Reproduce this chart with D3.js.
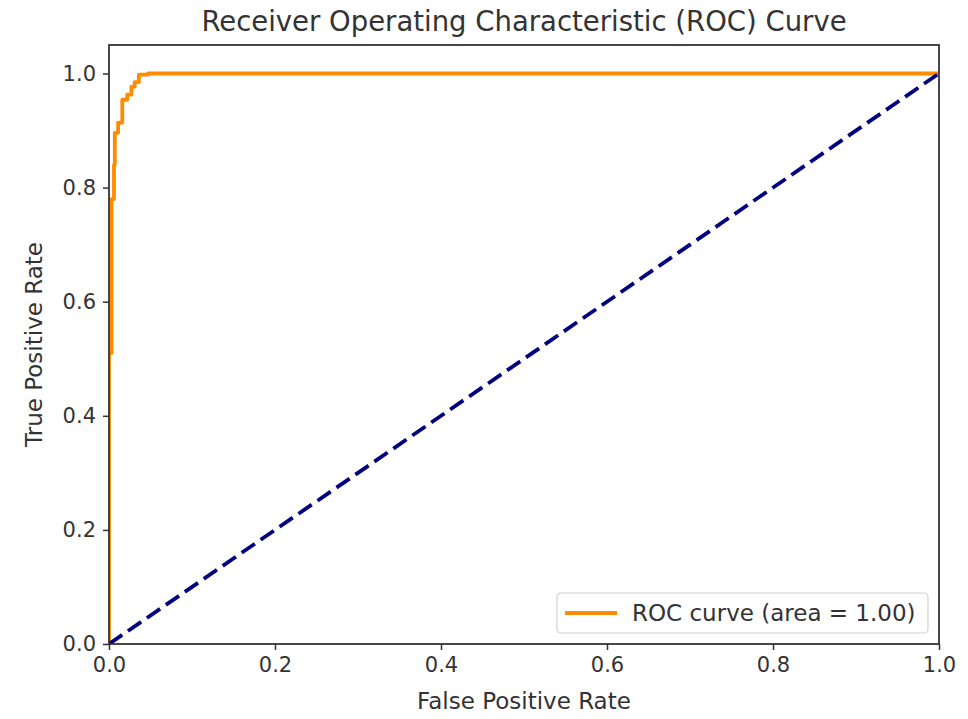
<!DOCTYPE html>
<html>
<head>
<meta charset="utf-8">
<script src="https://cdn.jsdelivr.net/npm/d3@7"></script>
<style>
  body { margin: 0; background: #fff; }
  svg { font-family: "DejaVu Sans", sans-serif; }
</style>
</head>
<body>
<svg id="chart" width="968" height="719"></svg>
<script>
// roc curve points
var fpr = [0, 0, 0.003, 0.003, 0.006, 0.006, 0.007, 0.007, 0.011, 0.011, 0.016, 0.016,
           0.022, 0.022, 0.027, 0.027, 0.031, 0.031, 0.036, 0.036, 0.047, 0.047, 1.0];
var tpr = [0, 0.51, 0.51, 0.78, 0.78, 0.84, 0.84, 0.896, 0.896, 0.914, 0.914, 0.954,
           0.954, 0.963, 0.963, 0.977, 0.977, 0.985, 0.985, 0.998, 0.998, 1.0, 1.0];
var chanceX = [0, 1];
var chanceY = [0, 1];
var xTicks = [0, 0.2, 0.4, 0.6, 0.8, 1.0];
var yTicks = [0, 0.2, 0.4, 0.6, 0.8, 1.0];
var legendLabel = "ROC curve (area = 1.00)";

var svg = d3.select("#chart");
var margin = {top: 45, right: 29, bottom: 75, left: 109};
var width = 968 - margin.left - margin.right;
var height = 719 - margin.top - margin.bottom;

var x = d3.scaleLinear().domain([0, 1]).range([0, width]);
var y = d3.scaleLinear().domain([0, 1.05]).range([height, 0]);

var g = svg.append("g").attr("transform", "translate(" + margin.left + "," + margin.top + ")");

g.append("clipPath").attr("id", "clip")
  .append("rect").attr("width", width).attr("height", height);

var line = d3.line()
  .x(function(d) { return x(d[0]); })
  .y(function(d) { return y(d[1]); });

var roc = fpr.map(function(f, i) { return [f, tpr[i]]; });
var chance = chanceX.map(function(v, i) { return [v, chanceY[i]]; });

var plot = g.append("g").attr("clip-path", "url(#clip)");
plot.append("path")
  .datum(roc)
  .attr("d", line)
  .attr("fill", "none")
  .attr("stroke", "#ff8c00")
  .attr("stroke-width", 3.8)
  .attr("stroke-linejoin", "round");

plot.append("path")
  .datum(chance)
  .attr("d", line)
  .attr("fill", "none")
  .attr("stroke", "#000080")
  .attr("stroke-width", 3.8)
  .attr("stroke-dasharray", "16,7");

// axes
var xAxis = g.append("g")
  .attr("transform", "translate(0," + height + ")")
  .call(d3.axisBottom(x).tickValues(xTicks).tickFormat(d3.format(".1f")).tickSize(6).tickPadding(7));
var yAxis = g.append("g")
  .call(d3.axisLeft(y).tickValues(yTicks).tickFormat(d3.format(".1f")).tickSize(6).tickPadding(7));

[xAxis, yAxis].forEach(function(a) {
  a.select(".domain").remove();
  a.selectAll("line").attr("stroke", "#333").attr("stroke-width", 1.5);
  a.selectAll("text").attr("fill", "#333").style("font-size", "21px").style("font-family", "DejaVu Sans");
});

// frame
g.append("rect")
  .attr("width", width).attr("height", height)
  .attr("fill", "none").attr("stroke", "#333").attr("stroke-width", 1.8);

// legend
var leg = g.append("g").attr("transform", "translate(" + (557 - margin.left) + "," + (593 - margin.top) + ")");
leg.append("rect")
  .attr("width", 371).attr("height", 40).attr("rx", 4)
  .attr("fill", "#fff").attr("fill-opacity", 0.8)
  .attr("stroke", "#d0d0d0").attr("stroke-width", 1.2);
leg.append("line")
  .attr("x1", 8).attr("x2", 60).attr("y1", 20).attr("y2", 20)
  .attr("stroke", "#ff8c00").attr("stroke-width", 3.8);
leg.append("text")
  .attr("x", 75).attr("y", 28)
  .attr("fill", "#333").style("font-size", "23px")
  .text(legendLabel);

// titles
svg.append("text")
  .attr("x", margin.left + width / 2).attr("y", 31)
  .attr("text-anchor", "middle").attr("fill", "#333")
  .style("font-size", "27.5px")
  .text("Receiver Operating Characteristic (ROC) Curve");

svg.append("text")
  .attr("x", margin.left + width / 2).attr("y", 709)
  .attr("text-anchor", "middle").attr("fill", "#333")
  .style("font-size", "23px")
  .text("False Positive Rate");

svg.append("text")
  .attr("transform", "translate(42," + (margin.top + height / 2) + ") rotate(-90)")
  .attr("text-anchor", "middle").attr("fill", "#333")
  .style("font-size", "23px")
  .text("True Positive Rate");
</script>
</body>
</html>
